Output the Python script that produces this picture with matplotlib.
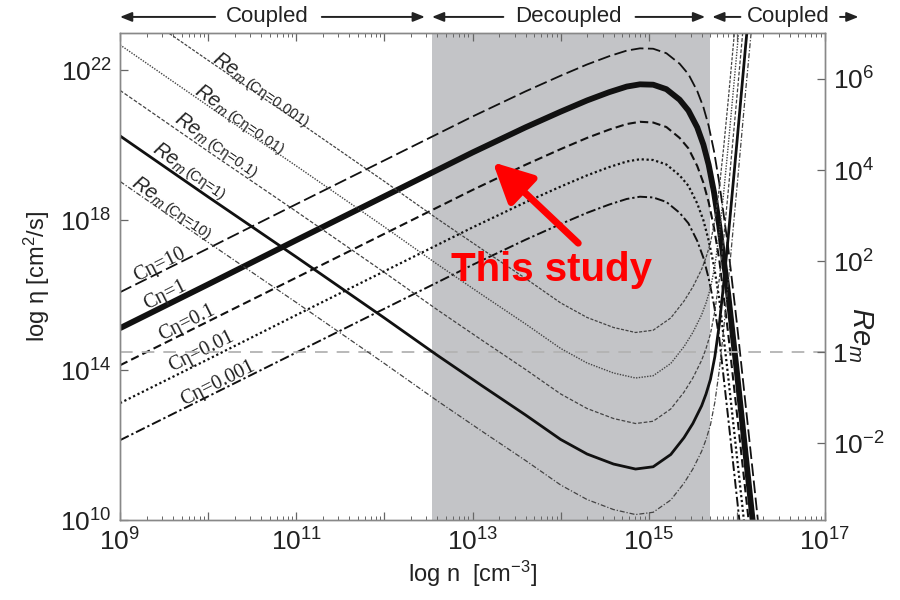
import numpy as np
import matplotlib.pyplot as plt
from matplotlib.ticker import LogLocator, NullLocator

plt.rcParams['font.family'] = 'Liberation Sans'
plt.rcParams['mathtext.fontset'] = 'custom'
plt.rcParams['mathtext.rm'] = 'Liberation Sans'
plt.rcParams['mathtext.it'] = 'Liberation Sans:italic'

# log10 n [cm^-3] grid for the eta curves, log10 eta [cm^2/s] per C_eta
logn_eta = [9.0, 10.0, 11.0, 12.0, 13.0, 13.6, 14.0, 14.3, 14.55, 14.75, 14.9, 15.05, 15.2,
            15.35, 15.45, 15.55, 15.62, 15.68, 15.74, 15.8, 15.9, 16.0, 16.1, 16.2, 16.3]
eta_c10 = [16.08, 17.25, 18.43, 19.60, 20.77, 21.44, 21.86, 22.16, 22.38, 22.53, 22.59, 22.58, 22.46,
           22.18, 21.90, 21.45, 21.02, 20.52, 19.85, 19.00, 17.30, 15.25, 13.05, 10.85, 8.60]
eta_c1 = [15.12, 16.29, 17.47, 18.64, 19.81, 20.48, 20.90, 21.20, 21.42, 21.57, 21.63, 21.62, 21.50,
          21.22, 20.93, 20.48, 20.02, 19.48, 18.75, 17.85, 16.05, 13.95, 11.73, 9.52, 7.30]
eta_c01 = [14.13, 15.30, 16.47, 17.64, 18.81, 19.48, 19.90, 20.20, 20.42, 20.57, 20.63, 20.61, 20.49,
           20.20, 19.92, 19.45, 19.00, 18.48, 17.80, 16.95, 15.00, 12.85, 10.70, 8.55, 6.40]
eta_c001 = [13.12, 14.29, 15.47, 16.64, 17.81, 18.48, 18.90, 19.20, 19.42, 19.57, 19.63, 19.61, 19.49,
            19.20, 18.92, 18.45, 18.00, 17.46, 16.78, 15.90, 13.85, 11.70, 9.55, 7.40, 5.25]
eta_c0001 = [12.13, 13.30, 14.47, 15.64, 16.81, 17.48, 17.90, 18.20, 18.42, 18.57, 18.63, 18.61, 18.49,
             18.20, 17.92, 17.45, 17.00, 16.45, 15.75, 14.85, 12.75, 10.60, 8.45, 6.30, 4.20]

# log10 n grid for the magnetic Reynolds number curves, log10 Re_m per C_eta
logn_re = [9.0, 10.0, 11.0, 12.0, 12.6, 13.1, 13.6, 14.0, 14.3, 14.6, 14.85, 15.05, 15.25,
           15.4, 15.5, 15.6, 15.65, 15.7, 15.75, 15.8, 15.85, 15.9, 16.0, 16.1, 16.2]
re_c10 = [3.75, 2.41, 1.09, -0.25, -1.07, -1.73, -2.38, -2.92, -3.24, -3.46, -3.57, -3.52, -3.25,
          -2.88, -2.57, -2.18, -1.92, -1.60, -1.10, -0.40, 0.50, 1.50, 3.60, 5.75, 7.80]
re_c1 = [4.75, 3.41, 2.09, 0.75, -0.07, -0.73, -1.38, -1.92, -2.24, -2.46, -2.57, -2.52, -2.25,
         -1.88, -1.57, -1.18, -0.92, -0.60, -0.10, 0.60, 1.50, 2.50, 4.60, 6.75, 8.80]
re_c01 = [5.75, 4.41, 3.09, 1.75, 0.93, 0.27, -0.38, -0.92, -1.24, -1.46, -1.57, -1.52, -1.25,
          -0.88, -0.57, -0.18, 0.08, 0.40, 0.90, 1.60, 2.50, 3.50, 5.60, 7.75, 9.80]
re_c001 = [6.75, 5.41, 4.09, 2.75, 1.93, 1.27, 0.62, 0.08, -0.24, -0.46, -0.57, -0.52, -0.25,
           0.12, 0.43, 0.82, 1.08, 1.40, 1.90, 2.60, 3.50, 4.50, 6.60, 8.75, 10.80]
re_c0001 = [7.75, 6.41, 5.09, 3.75, 2.93, 2.27, 1.62, 1.08, 0.76, 0.54, 0.43, 0.48, 0.75,
            1.12, 1.43, 1.82, 2.08, 2.40, 2.90, 3.60, 4.50, 5.50, 7.60, 9.75, 11.80]

decoupled = (12.54, 15.70)   # log n range of the shaded band

ceta_tags = ['10', '1', '0.1', '0.01', '0.001']
eta_label_pos = [(9.45, 16.8), (9.51, 16.0), (9.76, 15.25), (9.93, 14.48), (10.11, 13.65)]
re_label_pos = [(9.15, 3.76), (9.39, 4.51), (9.64, 5.16), (9.86, 5.78), (10.07, 6.48)]

fig = plt.figure(figsize=(9, 6), dpi=100)
ax = fig.add_axes([0.1333, 0.1333, 0.7834, 0.8117])
ax.set_xscale('log')
ax.set_yscale('log')
ax.set_xlim(1e9, 1e17)
ax.set_ylim(1e10, 1e23)
ax2 = ax.twinx()
ax2.set_yscale('log')
ax2.set_ylim(10**-3.69, 10**7.01)

ax.axvspan(10**decoupled[0], 10**decoupled[1], color='#c3c4c7', lw=0, zorder=0)

xe = 10**np.array(logn_eta)
eta_sets = [eta_c10, eta_c1, eta_c01, eta_c001, eta_c0001]
eta_styles = [dict(lw=1.3, dashes=(7, 2.5)),
              dict(lw=4.2),
              dict(lw=1.5, dashes=(4, 2)),
              dict(lw=1.6, dashes=(1, 1.2)),
              dict(lw=1.4, dashes=(5, 1.5, 1.2, 1.5))]
for vals, st in zip(eta_sets, eta_styles):
    ax.plot(xe, 10**np.array(vals), color='#111111', solid_capstyle='butt',
            solid_joinstyle='round', **st)

xr = 10**np.array(logn_re)
re_sets = [re_c10, re_c1, re_c01, re_c001, re_c0001]
re_styles = [dict(lw=0.9, color='#444444', dashes=(4, 1.5, 1, 1.5)),
             dict(lw=2.0, color='#111111'),
             dict(lw=0.9, color='#444444', dashes=(3, 1.5)),
             dict(lw=1.0, color='#444444', dashes=(1, 1)),
             dict(lw=0.9, color='#444444', dashes=(2.5, 1.2))]
for vals, st in zip(re_sets, re_styles):
    ax2.plot(xr, 10**np.array(vals), solid_joinstyle='round', **st)

ax2.axhline(1, color='#b3b3b3', lw=1.3, dashes=(7, 5), zorder=1)

# curve labels
for tag, (lx, ly) in zip(ceta_tags, eta_label_pos):
    ax.text(10**lx, 10**ly, 'C\u03b7=' + tag, rotation=26.6, rotation_mode='anchor',
            ha='center', va='center', fontsize=14.5, family='Liberation Serif', color='#222222')

ang = -34.6
off = 28
for tag, (lx, ly) in zip(ceta_tags, re_label_pos):
    ax2.annotate('$Re_m$', xy=(10**lx, 10**ly), fontsize=14.5, rotation=ang, rotation_mode='anchor',
                 ha='left', va='center', color='#222222')
    ax2.annotate('(C\u03b7=' + tag + ')', xy=(10**lx, 10**ly),
                 xytext=(off * np.cos(np.radians(ang)), off * np.sin(np.radians(ang)) - 2),
                 textcoords='offset points', fontsize=10.5, rotation=ang, rotation_mode='anchor',
                 ha='left', va='center', color='#222222')

# "This study"
ax2.text(10**13.9, 10**16.67, 'This study', transform=ax.transData, color='#ff0000',
         fontsize=29, fontweight='bold', ha='center', va='center')
ax2.annotate('', xy=(10**13.23, 10**19.55), xytext=(10**14.2, 10**17.39),
             xycoords=ax.transData, textcoords=ax.transData,
             arrowprops=dict(arrowstyle='-|>,head_length=0.8,head_width=0.4', color='#ff0000',
                             lw=5, mutation_scale=30, shrinkA=0, shrinkB=0))

# regime arrows above the axes
trans = ax.get_xaxis_transform()
ytop = 1.033
regimes = [('Coupled', 10.67, (10.08, 9.0), (11.29, 12.46)),
           ('Decoupled', 14.09, (13.35, 12.54), (14.85, 15.64)),
           ('Coupled', 16.58, (16.04, 15.72), (17.17, 17.38))]
for name, cx, a1, a2 in regimes:
    ax.text(10**cx, ytop, name, transform=trans, ha='center', va='center', fontsize=16,
            color='#222222', clip_on=False)
    for s, e in (a1, a2):
        ax.annotate('', xy=(10**e, ytop), xytext=(10**s, ytop), xycoords=trans, textcoords=trans,
                    arrowprops=dict(arrowstyle='-|>,head_length=0.5,head_width=0.2', color='#222222',
                                    lw=1.4, mutation_scale=14, shrinkA=0, shrinkB=0),
                    annotation_clip=False)

# ticks
ax.set_xticks([10**k for k in range(9, 18)])
ax.set_xticklabels(['$10^{%d}$' % k if k % 2 else '' for k in range(9, 18)])
ax.xaxis.set_minor_locator(LogLocator(base=10, subs=np.arange(2, 10), numticks=100))
ax.set_yticks([1e10, 1e14, 1e18, 1e22])
ax.set_yticklabels(['$10^{10}$', '$10^{14}$', '$10^{18}$', '$10^{22}$'])
ax.yaxis.set_minor_locator(NullLocator())
ax2.set_yticks([1e-2, 1, 1e2, 1e4, 1e6])
ax2.set_yticklabels(['$10^{-2}$', '1', '$10^{2}$', '$10^{4}$', '$10^{6}$'])
ax2.yaxis.set_minor_locator(NullLocator())

for a in (ax, ax2):
    a.tick_params(which='major', direction='in', length=6, width=0.9, color='#666666',
                  labelsize=19, labelcolor='#222222', pad=6)
    a.tick_params(which='minor', direction='in', length=3, width=0.7, color='#666666')
    for sp in a.spines.values():
        sp.set_color('#888888')
        sp.set_linewidth(1.0)
ax.tick_params(which='both', top=True)

ax.set_xlabel('log n  [cm$^{-3}$]', fontsize=17, color='#222222', labelpad=2)
ax.set_ylabel('log \u03b7 [cm$^2$/s]', fontsize=17, color='#222222', labelpad=6)
ax2.set_ylabel('$Re_m$', rotation=270, fontsize=21, color='#222222')
ax2.yaxis.set_label_coords(1.071, 0.38)

fig.savefig('out.png', dpi=100)
